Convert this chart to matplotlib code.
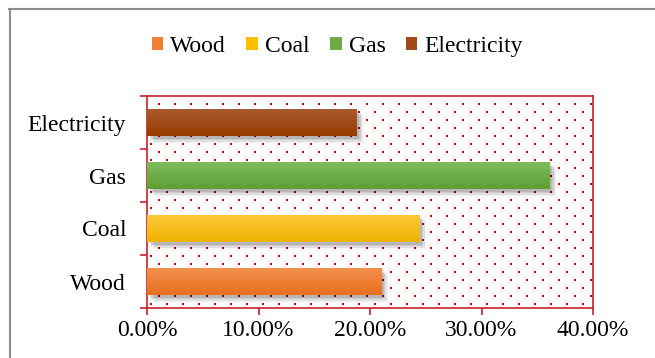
import matplotlib.pyplot as plt
import matplotlib.patheffects as pe
from matplotlib.patches import Patch
from matplotlib.lines import Line2D
from matplotlib.colors import LinearSegmentedColormap
import numpy as np

categories = ["Wood", "Coal", "Gas", "Electricity"]
values = [21.0, 24.4, 36.1, 18.8]
top_colors = ["#F4904E", "#FFCB3C", "#80BC5E", "#AC5C33"]
bottom_colors = ["#E8701E", "#EDB200", "#5E9F33", "#993A00"]
mid_colors = ["#F07F35", "#FFC000", "#6EAB45", "#A04A15"]
xticks = [0, 10, 20, 30, 40]

plt.rcParams["font.family"] = ["Liberation Serif", "DejaVu Serif"]
red = "#C8202A"

fig = plt.figure(figsize=(6.55, 3.58), dpi=100)
W, H = 655, 358
ax = fig.add_axes([147 / W, 1 - 308 / H, 446 / W, 212 / H])

# dotted background pattern
ax_w, ax_h = 446, 212
pts_x, pts_y = [], []
for i, py in enumerate(np.arange(4, ax_h, 8)):
    off = 0 if i % 2 == 0 else 8
    for px in np.arange(4 + off, ax_w, 16):
        pts_x.append(px / ax_w)
        pts_y.append(py / ax_h)
ax.scatter(pts_x, pts_y, s=3.2, marker="s", color="#C00000", linewidths=0,
           transform=ax.transAxes, zorder=0)

# soft shadow made of a few stacked translucent layers
shadow = []
for off, a in [((5, -5), 0.05), ((4, -4), 0.07), ((3, -3), 0.09), ((2, -2), 0.1)]:
    shadow.append(pe.SimplePatchShadow(offset=off, shadow_rgbFace="k", alpha=a))
shadow.append(pe.Normal())

y = np.arange(len(categories))
bars = ax.barh(y, values, height=0.52, color=mid_colors, zorder=2)
for bar, c0, c1 in zip(bars, top_colors, bottom_colors):
    bar.set_path_effects(shadow)
    cmap = LinearSegmentedColormap.from_list("g", [c0, c1])
    x0, y0 = bar.get_x(), bar.get_y()
    w, h = bar.get_width(), bar.get_height()
    grad = np.linspace(0, 1, 50).reshape(-1, 1)
    im = ax.imshow(grad, cmap=cmap, aspect="auto", extent=(x0, x0 + w, y0, y0 + h),
                   zorder=3, origin="upper")
    im.set_clip_path(bar)

ax.set_xlim(0, 40)
ax.set_ylim(-0.5, len(categories) - 0.5)
ax.set_xticks(xticks)
ax.set_xticklabels([f"{v / 100:.2%}" for v in xticks])
ax.set_yticks(np.arange(-0.5, len(categories), 1.0))
ax.set_yticklabels([])
ax.set_yticks(y, minor=True)
ax.set_yticklabels(categories, minor=True)
ax.tick_params(axis="y", which="major", length=5, color=red, width=1.2, direction="out")
ax.tick_params(axis="y", which="minor", length=0, pad=15, labelsize=17)
ax.tick_params(axis="x", length=5, color=red, width=1.2, direction="out", pad=4, labelsize=17)
for s in ax.spines.values():
    s.set_color(red)
    s.set_linewidth(1.2)

handles = [Patch(facecolor=c) for c in mid_colors]
fig.legend(handles, categories, loc="center", bbox_to_anchor=(0.515, 0.87), ncol=4,
           frameon=False, fontsize=17, handlelength=0.5, handleheight=0.5,
           handletextpad=0.3, columnspacing=0.85)

# chart frame (cropped)
fig.add_artist(Line2D([9 / W, 1], [1 - 8.5 / H, 1 - 8.5 / H], color="#8C8C8C", lw=1.5))
fig.add_artist(Line2D([9.5 / W, 9.5 / W], [0, 1 - 8.5 / H], color="#8C8C8C", lw=1.5))

fig.savefig("out.png", dpi=100)
